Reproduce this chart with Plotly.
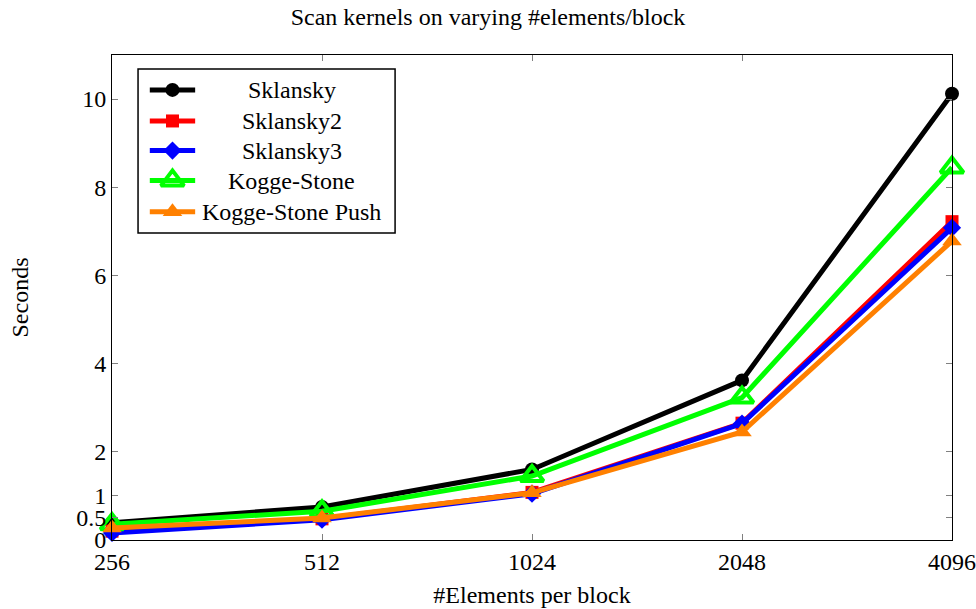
import math
import plotly.graph_objects as go

# Block sizes (elements per block) and measured run times in seconds
sizes = [256, 512, 1024, 2048, 4096]
size_labels = ["256", "512", "1024", "2048", "4096"]

sklansky = [0.39, 0.75, 1.60, 3.62, 10.12]
sklansky2 = [0.20, 0.48, 1.08, 2.65, 7.22]
sklansky3 = [0.16, 0.46, 1.05, 2.64, 7.08]
kogge_stone = [0.36, 0.65, 1.45, 3.23, 8.45]
kogge_stone_push = [0.27, 0.50, 1.07, 2.45, 6.78]

y_tickvals = [0, 0.5, 1, 2, 4, 6, 8, 10]
y_ticktext = ["0", "0.5", "1", "2", "4", "6", "8", "10"]

FONT = "Liberation Serif, Times New Roman, serif"
FS = 24

series = [
    ("Sklansky", sklansky, "#000000", dict(symbol="circle", size=14)),
    ("Sklansky2", sklansky2, "#FF0000", dict(symbol="square", size=13)),
    ("Sklansky3", sklansky3, "#0000FF", dict(symbol="diamond", size=14)),
    ("Kogge-Stone", kogge_stone, "#00FF00",
     dict(symbol="triangle-up-open", size=20, line=dict(width=4))),
    ("Kogge-Stone Push", kogge_stone_push, "#FF8000",
     dict(symbol="triangle-up", size=17)),
]


def marker_style(marker, color):
    m = dict(marker)
    m["color"] = color
    if "line" in m:
        m["line"] = dict(m["line"], color=color)
    else:
        m["line"] = dict(width=0)
    return m


fig = go.Figure()

for name, vals, color, marker in series:
    fig.add_trace(go.Scatter(
        x=sizes, y=vals, name=name, mode="lines+markers",
        line=dict(color=color, width=5), marker=marker_style(marker, color),
        cliponaxis=False, showlegend=False,
    ))

# Boxed legend with centred entry labels, drawn on an overlay axis (0..1)
row_y = [0.928, 0.864, 0.803, 0.741, 0.677]
for (name, vals, color, marker), ry in zip(series, row_y):
    fig.add_trace(go.Scatter(
        x=[0.045, 0.072, 0.099], y=[ry, ry, ry], mode="lines+markers",
        line=dict(color=color, width=5),
        marker=marker_style(marker, color),
        selectedpoints=[1], selected=dict(marker=dict(opacity=1)),
        unselected=dict(marker=dict(opacity=0)),
        xaxis="x2", yaxis="y2", showlegend=False, hoverinfo="skip",
        cliponaxis=False,
    ))
    fig.add_annotation(
        x=0.214, y=ry, xref="paper", yref="paper", text=name,
        showarrow=False, xanchor="center", yanchor="middle",
        font=dict(family=FONT, size=FS, color="black"),
    )

fig.add_shape(
    type="rect", xref="paper", yref="paper",
    x0=0.031, x1=0.337, y0=0.633, y1=0.971,
    line=dict(color="black", width=1.5), fillcolor="white", layer="below",
)

axis_common = dict(
    showline=True, linecolor="black", linewidth=1, mirror="allticks",
    ticks="inside", ticklen=6, tickcolor="#808080", tickwidth=1,
    showgrid=False, zeroline=False, automargin=False,
    tickfont=dict(family=FONT, size=FS, color="black"),
    title_font=dict(family=FONT, size=FS, color="black"),
)

fig.update_layout(
    width=976, height=609,
    margin=dict(l=112, r=24, t=55, b=69),
    paper_bgcolor="white", plot_bgcolor="white",
    title=dict(
        text="Scan kernels on varying #elements/block",
        x=0.5, xanchor="center", y=0.972, yanchor="middle",
        font=dict(family=FONT, size=FS, color="black"),
    ),
    xaxis=dict(
        axis_common, type="log",
        range=[math.log10(sizes[0]) - 1e-9, math.log10(sizes[-1]) + 1e-9],
        tickvals=sizes, ticktext=size_labels,
        title=dict(text="#Elements per block", standoff=12),
    ),
    yaxis=dict(
        axis_common, range=[0, 11],
        tickvals=y_tickvals, ticktext=y_ticktext,
        title=dict(text="Seconds", standoff=40),
    ),
    xaxis2=dict(range=[0, 1], overlaying="x", visible=False, anchor="y2"),
    yaxis2=dict(range=[0, 1], overlaying="y", visible=False, anchor="x2"),
    showlegend=False,
)

fig.write_html("out.html")
